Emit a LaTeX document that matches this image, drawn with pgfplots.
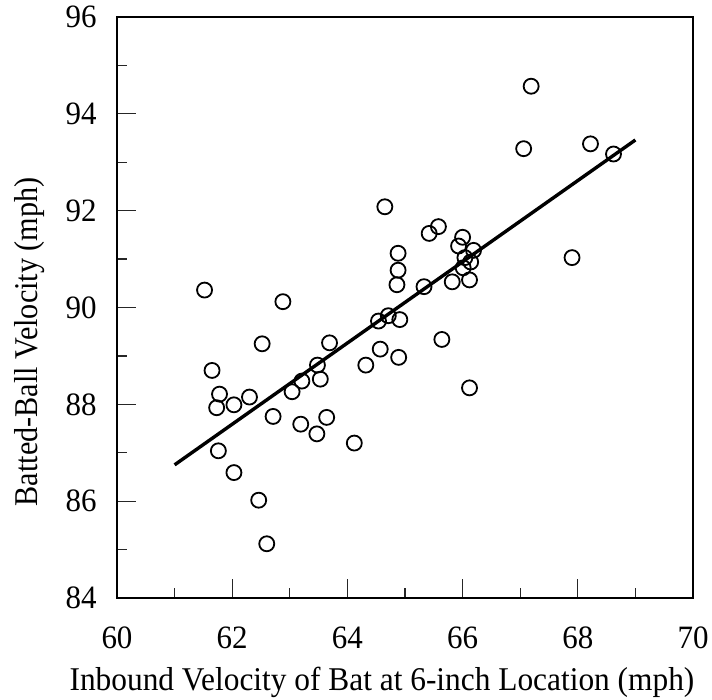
\documentclass[border=0pt]{standalone}
\usepackage{pgfplots}
\pgfplotsset{compat=1.18}
\usepackage{fontspec}
\setmainfont{Liberation Serif}
\newfontfamily\xlabfont[FakeStretch=0.945]{Liberation Serif}
\newfontfamily\ylabfont[FakeStretch=0.91]{Liberation Serif}
\newfontfamily\tickfont[FakeStretch=0.95]{Liberation Serif}

\begin{document}
\begin{tikzpicture}[x=1pt,y=1pt]
\begin{axis}[
    at={(58.5pt,51pt)}, anchor=south west,
    scale only axis,
    width=288pt, height=290.5pt,
    xmin=60, xmax=70, ymin=84, ymax=96,
    xtick={60,62,...,70}, ytick={84,86,...,96},
    minor tick num=1,
    tick pos=left, tick align=inside,
    major tick length=9.5pt, minor tick length=5pt,
    axis line style={line width=0.75pt},
    every tick/.style={black!85, line width=0.6pt},
    /pgf/number format/assume math mode=true,
    ticklabel style={font=\tickfont\fontsize{16.3}{19}\selectfont},
    xticklabel style={anchor=center, inner sep=0pt, yshift=-19.75pt},
    yticklabel style={anchor=east, inner sep=0pt, xshift=-10pt},
    xlabel={Inbound Velocity of Bat at 6-inch Location (mph)},
    ylabel={Batted-Ball Velocity (mph)},
    xlabel style={font=\xlabfont\fontsize{16.6}{20}\selectfont,
        at={(axis description cs:0.460,-0.160)}, anchor=base},
    ylabel style={font=\ylabfont\fontsize{16.6}{20}\selectfont,
        at={(axis description cs:-0.151,0.441)}, anchor=center},
    clip=false,
]
% measured points
\addplot[only marks, mark=o, mark size=3.75pt, mark options={line width=0.9pt, black}]
  table {
x y
61.52 90.36
62.88 90.12
64.65 92.08
65.42 91.53
65.58 91.67
66.00 91.45
65.93 91.27
66.19 91.18
64.88 91.12
64.88 90.77
64.86 90.47
65.33 90.43
65.82 90.53
66.12 90.57
66.04 91.03
66.14 90.94
66.01 90.82
67.19 94.57
67.06 93.28
68.22 93.38
68.62 93.17
67.90 91.03
64.54 89.72
64.71 89.83
64.91 89.75
65.64 89.34
63.69 89.27
62.52 89.25
61.65 88.70
61.78 88.21
61.73 87.93
62.03 87.99
62.30 88.15
63.48 88.81
63.21 88.48
63.53 88.52
63.04 88.26
62.71 87.75
63.19 87.59
63.64 87.73
63.47 87.39
64.32 88.81
64.57 89.14
64.89 88.97
64.12 87.20
66.12 88.34
61.76 87.04
62.03 86.59
62.46 86.02
62.60 85.12
};
% fitted line
\addplot[black, line width=1.7pt] coordinates {(61,86.75) (69,93.46)};
\end{axis}
\pgfresetboundingbox
\path[use as bounding box] (0,0) rectangle (356pt,350pt);
\end{tikzpicture}
\end{document}
